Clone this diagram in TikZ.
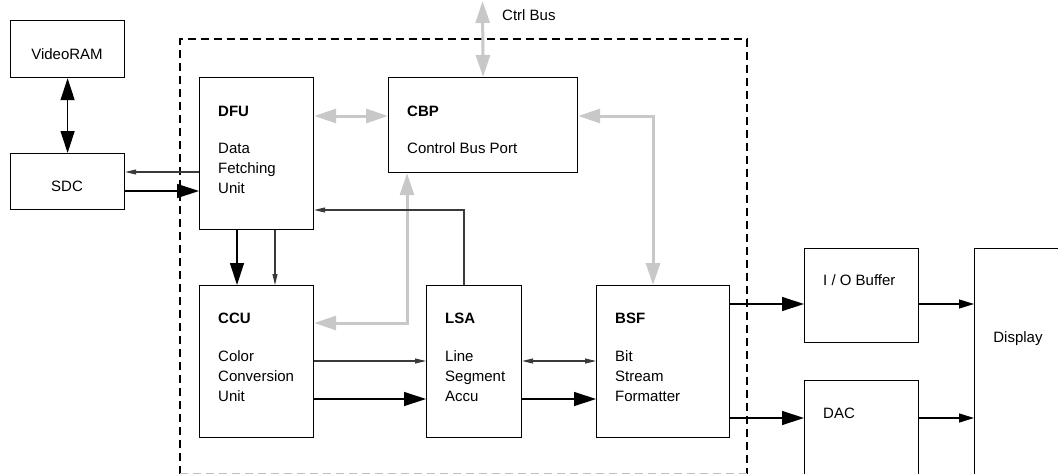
\documentclass[tikz,border=0pt]{standalone}
\usepackage{fontspec}
\setmainfont{Liberation Sans}
\usetikzlibrary{arrows.meta,calc}
\definecolor{busgray}{HTML}{C8C8C8}
\definecolor{linegray}{HTML}{3A3A3A}
\tikzset{
  BigT/.tip={Triangle[length=22pt,width=14pt]},
  SmallT/.tip={Triangle[length=11pt,width=5pt]},
  MedT/.tip={Triangle[length=15pt,width=9pt]},
  GrayT/.tip={Triangle[length=22pt,width=14pt]},
  box/.style={draw=black,line width=1.2pt,rectangle,inner sep=0pt,anchor=north west},
  txt/.style={inner sep=0pt,font=\fontsize{15}{20}\selectfont},
  ttl/.style={inner sep=0pt,font=\fontsize{15}{20}\selectfont\bfseries},
  thick conn/.style={draw=black,line width=1.3pt},
  thin conn/.style={draw=linegray,line width=1.1pt},
  bus conn/.style={draw=busgray,line width=3pt},
  chipline/.style={dash pattern=on 8pt off 5pt,line width=1.2pt},
}
\begin{document}
\begin{tikzpicture}[x=1pt,y=-1pt]
\useasboundingbox (0,0) rectangle (1058,474);
% dashed chip boundary
\draw[chipline] (180,473.5) -- (180,39) -- (747,39) -- (747,473.5);
\draw[chipline,draw=black!25] (180,473.5) -- (747,473.5);

% boxes
\node[box,minimum width=114pt,minimum height=57pt] (vram) at (10,20) {};
\node[box,minimum width=114pt,minimum height=56pt] (sdc) at (10,153) {};
\node[box,minimum width=114pt,minimum height=152pt] (dfu) at (199,77) {};
\node[box,minimum width=189pt,minimum height=95pt] (cbp) at (388,77) {};
\node[box,minimum width=114pt,minimum height=152pt] (ccu) at (199,285) {};
\node[box,minimum width=95pt,minimum height=152pt] (lsa) at (426,285) {};
\node[box,minimum width=133pt,minimum height=152pt] (bsf) at (596,285) {};
\node[box,minimum width=114pt,minimum height=94pt] (iob) at (804,248) {};
\node[box,minimum width=114pt,minimum height=110pt] (dac) at (804,380) {};
\node[box,minimum width=100pt,minimum height=260pt] (disp) at (974,248) {};

% texts
\node[txt,anchor=base] (vramT) at (67,59) {VideoRAM};
\node[txt,anchor=base] (sdcT) at (67,191) {SDC};
\node[ttl,anchor=base west] (dfuT) at (218,116) {DFU};
\node[txt,anchor=base west] (dfuD) at (218,153) {Data};
\node[txt,anchor=base west] (dfuD2) at (218,173) {Fetching};
\node[txt,anchor=base west] (dfuD3) at (218,193) {Unit};
\node[ttl,anchor=base west] (cbpT) at (407,116) {CBP};
\node[txt,anchor=base west] (cbpD) at (407,153) {Control Bus Port};
\node[ttl,anchor=base west] (ccuT) at (218,323) {CCU};
\node[txt,anchor=base west] (ccuD) at (218,361) {Color};
\node[txt,anchor=base west] (ccuD2) at (218,381) {Conversion};
\node[txt,anchor=base west] (ccuD3) at (218,401) {Unit};
\node[ttl,anchor=base west] (lsaT) at (445,323) {LSA};
\node[txt,anchor=base west] (lsaD) at (445,361) {Line};
\node[txt,anchor=base west] (lsaD2) at (445,381) {Segment};
\node[txt,anchor=base west] (lsaD3) at (445,401) {Accu};
\node[ttl,anchor=base west] (bsfT) at (615,323) {BSF};
\node[txt,anchor=base west] (bsfD) at (615,361) {Bit};
\node[txt,anchor=base west] (bsfD2) at (615,381) {Stream};
\node[txt,anchor=base west] (bsfD3) at (615,401) {Formatter};
\node[txt,anchor=base west] (iobT) at (823,285) {I / O Buffer};
\node[txt,anchor=base west] (dacT) at (823,418) {DAC};
\node[txt,anchor=base] (dispT) at (1018,342) {Display};
\node[txt,anchor=base west] (ctrlT) at (502,20) {Ctrl Bus};
\coordinate (ctrl) at (482.5,1);

% connectors
\draw[thick conn,BigT-BigT] (vram.south) -- (sdc.north);
\draw[thin conn,-SmallT] ($(dfu.north west)+(0,95)$) -- ($(sdc.north east)+(0,19)$);
\draw[thick conn,-BigT] ($(sdc.north east)+(0,38)$) -- ($(dfu.north west)+(0,114)$);

\draw[bus conn,GrayT-GrayT] (ctrl) -- (cbp.north);
\draw[bus conn,GrayT-GrayT] ($(dfu.north east)+(0,39)$) -- ($(cbp.north west)+(0,39)$);
\draw[bus conn,GrayT-GrayT] ($(cbp.north east)+(0,39)$) -| ($(bsf.north west)+(57,0)$);
\draw[bus conn,GrayT-GrayT] ($(ccu.north east)+(0,38)$) -| ($(cbp.south west)+(19,0)$);

\draw[thick conn,-BigT] ($(dfu.south west)+(38,0)$) -- ($(ccu.north west)+(38,0)$);
\draw[thin conn,-SmallT] ($(dfu.south west)+(76,0)$) -- ($(ccu.north west)+(76,0)$);
\draw[thin conn,-SmallT] ($(lsa.north west)+(38,0)$) |- ($(dfu.north east)+(0,133)$);

\draw[thin conn,-SmallT] ($(ccu.north east)+(0,76)$) -- ($(lsa.north west)+(0,76)$);
\draw[thick conn,-BigT] ($(ccu.north east)+(0,114)$) -- ($(lsa.north west)+(0,114)$);
\draw[thin conn,SmallT-SmallT] ($(lsa.north east)+(0,76)$) -- ($(bsf.north west)+(0,76)$);
\draw[thick conn,-BigT] ($(lsa.north east)+(0,114)$) -- ($(bsf.north west)+(0,114)$);

\draw[thick conn,-BigT] ($(bsf.north east)+(0,19)$) -- ($(iob.north west)+(0,56)$);
\draw[thick conn,-BigT] ($(bsf.north east)+(0,133)$) -- ($(dac.north west)+(0,38)$);
\draw[thick conn,-MedT] ($(iob.north east)+(0,56)$) -- ($(disp.north west)+(0,56)$);
\draw[thick conn,-MedT] ($(dac.north east)+(0,38)$) -- ($(disp.north west)+(0,170)$);
\end{tikzpicture}
\end{document}
